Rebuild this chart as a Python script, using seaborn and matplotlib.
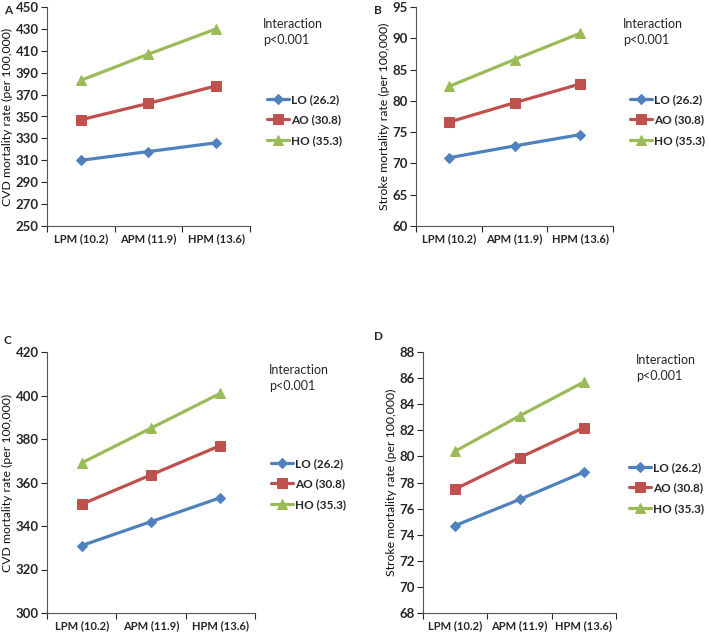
import numpy as np
import pandas as pd
import matplotlib
matplotlib.use("Agg")
import matplotlib.pyplot as plt
import seaborn as sns

sns.set_style("white")
plt.rcParams['font.family'] = ['Lato', 'DejaVu Sans']

categories = ["LPM (10.2)", "APM (11.9)", "HPM (13.6)"]
groups = ["LO (26.2)", "AO (30.8)", "HO (35.3)"]

a_lo = [310, 318, 326]
a_ao = [347, 362, 378]
a_ho = [383, 407, 430]

b_lo = [70.9, 72.8, 74.6]
b_ao = [76.6, 79.7, 82.7]
b_ho = [82.3, 86.6, 90.8]

c_lo = [331, 342, 353]
c_ao = [350, 363.5, 377]
c_ho = [369, 385, 401]

d_lo = [74.7, 76.7, 78.8]
d_ao = [77.5, 79.9, 82.2]
d_ho = [80.4, 83.1, 85.7]

a_ticks = [250, 270, 290, 310, 330, 350, 370, 390, 410, 430, 450]
b_ticks = [60, 65, 70, 75, 80, 85, 90, 95]
c_ticks = [300, 320, 340, 360, 380, 400, 420]
d_ticks = [68, 70, 72, 74, 76, 78, 80, 82, 84, 86, 88]

ylabels = ["CVD mortality rate (per 100,000)", "Stroke mortality rate (per 100,000)",
           "CVD mortality rate (per 100,000)", "Stroke mortality rate (per 100,000)"]
panel_letters = ["A", "B", "C", "D"]

colors = {"LO (26.2)": "#4F81BD", "AO (30.8)": "#C0504D", "HO (35.3)": "#9BBB59"}
markers = {"LO (26.2)": "D", "AO (30.8)": "s", "HO (35.3)": "^"}
msizes = {"LO (26.2)": 5.5, "AO (30.8)": 7, "HO (35.3)": 7.5}

W, H = 709, 635
fig = plt.figure(figsize=(W / 100, H / 100), dpi=100)


def rect(l, r, t, b):
    return [l / W, 1 - b / H, (r - l) / W, (b - t) / H]


panels = [
    dict(vals=(a_lo, a_ao, a_ho), ticks=a_ticks, box=(47, 250, 7, 226),
         letter=(4, 10), inter=(263, 32), leg=(267, 103)),
    dict(vals=(b_lo, b_ao, b_ho), ticks=b_ticks, box=(416, 613, 7, 226),
         letter=(374, 10), inter=(623, 32), leg=(630, 103)),
    dict(vals=(c_lo, c_ao, c_ho), ticks=c_ticks, box=(47, 255, 352, 613),
         letter=(4, 340), inter=(269, 378), leg=(271, 467)),
    dict(vals=(d_lo, d_ao, d_ho), ticks=d_ticks, box=(423, 616, 352, 613),
         letter=(374, 337), inter=(636, 368), leg=(629, 471)),
]

for i, p in enumerate(panels):
    ax = fig.add_axes(rect(*p["box"]))
    rows = []
    for g, v in zip(groups, p["vals"]):
        for j, c in enumerate(categories):
            rows.append({"x": j, "y": v[j], "group": g})
    df = pd.DataFrame(rows)
    for g in groups:
        sub = df[df.group == g]
        sns.lineplot(data=sub, x="x", y="y", ax=ax, color=colors[g], marker=markers[g],
                     markersize=msizes[g], markeredgecolor=colors[g], linewidth=2.3,
                     label=g, legend=False)
    ax.set_xlim(-0.5, 2.5)
    ax.set_ylim(p["ticks"][0], p["ticks"][-1])
    ax.set_yticks(p["ticks"])
    ax.set_yticklabels([str(t) for t in p["ticks"]], fontsize=9.5, fontweight="bold")
    ax.set_xticks([0, 1, 2])
    ax.set_xticklabels(categories, fontsize=8, fontweight="bold")
    ax.set_xticks([-0.5, 0.5, 1.5, 2.5], minor=True)
    ax.tick_params(axis="x", which="major", length=0, pad=5)
    ax.tick_params(axis="x", which="minor", length=4, width=0.8, direction="out", bottom=True)
    ax.tick_params(axis="y", length=4, width=0.8, direction="out", left=True, pad=2)
    ax.set_xlabel("")
    ax.set_ylabel(ylabels[i], fontsize=8.8, labelpad=1.5, color="#111111")
    for s in ["top", "right"]:
        ax.spines[s].set_visible(False)
    for s in ["left", "bottom"]:
        ax.spines[s].set_color("#555555")
        ax.spines[s].set_linewidth(0.8)
    ax.grid(False)
    fig.text(p["letter"][0] / W, 1 - p["letter"][1] / H, panel_letters[i],
             fontsize=8.5, fontweight="bold", va="center", ha="left")
    fig.text(p["inter"][0] / W, 1 - p["inter"][1] / H, "Interaction\np<0.001",
             fontsize=9, va="center", ha="left", linespacing=1.3)
    handles, labels = ax.get_legend_handles_labels()
    leg = ax.legend(handles, labels, loc="upper left",
                    bbox_to_anchor=(p["leg"][0] / W, 1 - (p["leg"][1] - 9) / H),
                    bbox_transform=fig.transFigure, frameon=False,
                    prop={"size": 8.5, "weight": "bold"}, handlelength=1.9,
                    handletextpad=0.1, labelspacing=0.8, borderpad=0, borderaxespad=0)

fig.savefig("out.png", dpi=100)
